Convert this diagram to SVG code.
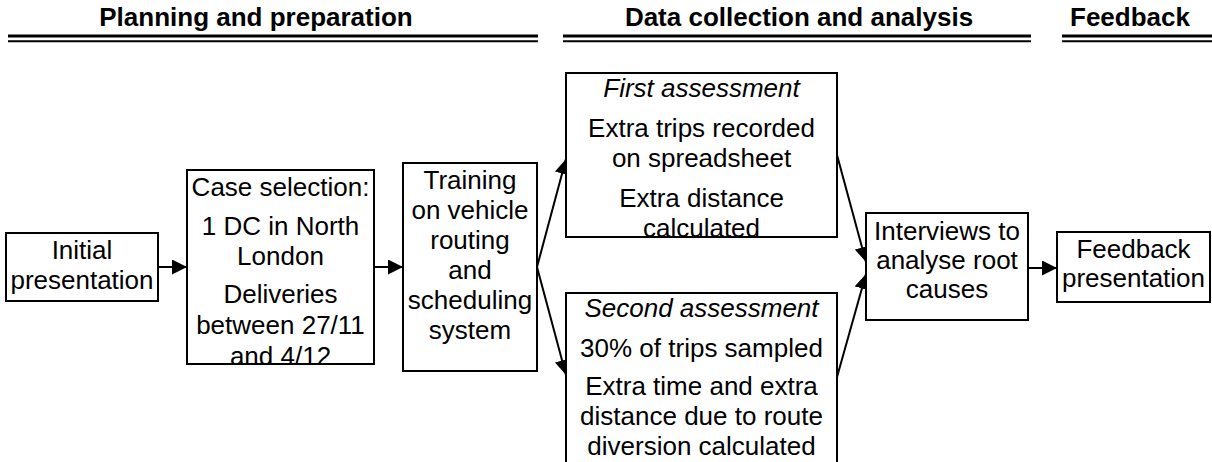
<svg xmlns="http://www.w3.org/2000/svg" width="1212" height="462" viewBox="0 0 1212 462">
<style>
text{font-family:"Liberation Sans",Arial,sans-serif;font-size:26px;fill:#000;text-anchor:middle}
.h{font-weight:bold}
.i{font-style:italic}
.box{fill:#fff;stroke:#000;stroke-width:2}
.thick{stroke:#000;stroke-width:3}
.thin{stroke:#000;stroke-width:2}
.conn{stroke:#000;stroke-width:2;fill:none;marker-end:url(#ah)}
</style>
<defs>
<marker id="ah" markerUnits="userSpaceOnUse" markerWidth="15" markerHeight="15" refX="15" refY="7.5" orient="auto">
<path d="M0,0 L15,7.5 L0,15 z" fill="#000"/>
</marker>
<clipPath id="cCase"><rect x="188" y="171" width="185" height="192"/></clipPath>
<clipPath id="cFirst"><rect x="567" y="74" width="269" height="162"/></clipPath>
</defs>
<g id="headers">
<text class="h" x="256" y="26">Planning and preparation</text>
<line class="thick" x1="8" y1="36" x2="538" y2="36"/>
<line class="thin" x1="8" y1="41.3" x2="538" y2="41.3"/>
<text class="h" x="799" y="26">Data collection and analysis</text>
<line class="thick" x1="563" y1="36" x2="1031" y2="36"/>
<line class="thin" x1="563" y1="41.3" x2="1031" y2="41.3"/>
<text class="h" x="1130" y="26">Feedback</text>
<line class="thick" x1="1062" y1="36" x2="1212" y2="36"/>
<line class="thin" x1="1062" y1="41.3" x2="1212" y2="41.3"/>
</g>
<g id="connectors">
<line class="conn" x1="158" y1="267" x2="187" y2="267"/>
<line class="conn" x1="374" y1="267" x2="403" y2="267"/>
<line class="conn" x1="537" y1="267" x2="566" y2="159"/>
<line class="conn" x1="537" y1="267" x2="566" y2="375"/>
<line class="conn" x1="837" y1="155" x2="866" y2="262"/>
<line class="conn" x1="837" y1="377" x2="866" y2="274"/>
<line class="conn" x1="1028" y1="268" x2="1057" y2="268"/>
</g>
<g id="initial">
<rect class="box" x="6" y="233" width="152" height="68"/>
<text x="82" y="259">Initial</text>
<text x="82" y="289">presentation</text>
</g>
<g id="case">
<rect class="box" x="187" y="170" width="187" height="194"/>
<g clip-path="url(#cCase)">
<text x="280.5" y="196">Case selection:</text>
<text x="280.5" y="235">1 DC in North</text>
<text x="280.5" y="265">London</text>
<text x="280.5" y="303">Deliveries</text>
<text x="280.5" y="334">between 27/11</text>
<text x="280.5" y="365">and 4/12</text>
</g>
</g>
<g id="training">
<rect class="box" x="403" y="163" width="134" height="208"/>
<text x="470" y="189">Training</text>
<text x="470" y="219">on vehicle</text>
<text x="470" y="249">routing</text>
<text x="470" y="279">and</text>
<text x="470" y="309">scheduling</text>
<text x="470" y="339">system</text>
</g>
<g id="first">
<rect class="box" x="566" y="73" width="271" height="164"/>
<g clip-path="url(#cFirst)">
<text class="i" x="701.5" y="97">First assessment</text>
<text x="701.5" y="137">Extra trips recorded</text>
<text x="701.5" y="167">on spreadsheet</text>
<text x="701.5" y="207">Extra distance</text>
<text x="701.5" y="237">calculated</text>
</g>
</g>
<g id="second">
<rect class="box" x="566" y="293" width="271" height="180"/>
<text class="i" x="701.5" y="317">Second assessment</text>
<text x="701.5" y="357">30% of trips sampled</text>
<text x="701.5" y="395">Extra time and extra</text>
<text x="701.5" y="425">distance due to route</text>
<text x="701.5" y="455">diversion calculated</text>
</g>
<g id="interviews">
<rect class="box" x="866" y="213" width="162" height="107"/>
<text x="947" y="240">Interviews to</text>
<text x="947" y="269">analyse root</text>
<text x="947" y="298">causes</text>
</g>
<g id="feedback">
<rect class="box" x="1057" y="232" width="153" height="70"/>
<text x="1133.5" y="258">Feedback</text>
<text x="1133.5" y="287">presentation</text>
</g>
</svg>
